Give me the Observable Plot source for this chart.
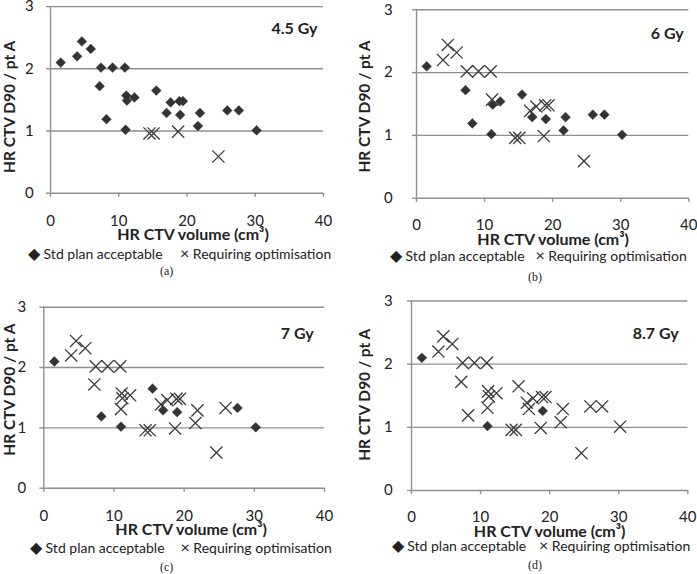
<!DOCTYPE html>
<html>
<head>
<meta charset="utf-8">
<script src="https://cdn.jsdelivr.net/npm/d3@7"></script>
<script src="https://cdn.jsdelivr.net/npm/@observablehq/plot@0.6"></script>
<style>
  html, body { margin: 0; padding: 0; background: #fff; }
  #root { position: relative; width: 697px; height: 574px; overflow: hidden; font-family: Lato, "Open Sans", sans-serif; }
  .panel { position: absolute; }
  .leg { position: absolute; font-size: 14px; color: #222; white-space: nowrap; line-height: 1; transform: translateY(-50%); }
  .leg .sym { font-size: 16px; }
  .cap { position: absolute; font-family: "Liberation Serif", "DejaVu Serif", serif; font-size: 12px; color: #222; transform: translate(-50%, -50%); line-height: 1; }
</style>
</head>
<body>
<div id="root"></div>
<script>
// ---- data ----
const volume = [1.5, 3.9, 4.6, 5.9, 7.4, 9.1, 10.9, 7.2, 8.2, 11.1, 11.2, 12.3, 11.0, 11.0, 14.5, 15.1, 15.5, 16.7, 17.0, 17.6, 18.9, 19.4, 19.0, 18.7, 21.6, 21.9, 25.9, 27.6, 30.2, 24.6];
const ratio  = [2.10, 2.20, 2.44, 2.32, 2.02, 2.02, 2.02, 1.72, 1.19, 1.57, 1.49, 1.54, 1.31, 1.02, 0.96, 0.96, 1.65, 1.39, 1.29, 1.46, 1.48, 1.48, 1.26, 0.99, 1.08, 1.29, 1.33, 1.33, 1.01, 0.59];
// A = std plan acceptable, O = requiring optimisation, "" = not shown
const status45 = ["A","A","A","A","A","A","A","A","A","A","A","A","", "A","O","O","A","", "A","A","A","A","A","O","A","A","A","A","A","O"];
const status6  = ["A","O","O","O","O","O","O","A","A","O","A","A","", "A","O","O","A","O","A","O","O","O","A","O","A","A","A","A","A","O"];
const status7  = ["A","O","O","O","O","O","O","O","A","O","O","O","O","A","O","O","A","O","A","O","O","O","A","O","O","O","O","A","A","O"];
const status87 = ["A","O","O","O","O","O","O","O","O","O","O","O","O","A","O","O","O","O","O","O","O","O","A","O","O","O","O","O","O","O"];
const doses = ["4.5 Gy", "6 Gy", "7 Gy", "8.7 Gy"];
const captions = ["(a)", "(b)", "(c)", "(d)"];
const xTicks = [0, 10, 20, 30, 40];
const yTicks = [0, 1, 2, 3];
const xTitle = "HR CTV volume (cm³)";
const yTitle = "HR CTV D90 / pt A";
const legendLabels = ["Std plan acceptable", "Requiring optimisation"];
const legendSymbols = ["\u25C6", "\u00D7"];

const statuses = [status45, status6, status7, status87];

// ---- layout of each panel (pixels) ----
const layout = [
  {left: 0,   top: 0,   width: 348, height: 250, mL: 50,   mR: 25,  mT: 6.1,  mB: 57.3, yPad: 12.7, xPad: 18, gyDx: -6,   gyDy: 22,   xtDx: 6,   ytDx: -40, ytDy: 7,
   leg1: 28, leg2: 180, legY: 253.3, capX: 166.7, capY: 271},
  {left: 350, top: 0,   width: 347, height: 250, mL: 66,   mR: 8.7, mT: 9.3,  mB: 52.3, yPad: 19.7, xPad: 17, gyDx: -5,   gyDy: 24,   xtDx: 0.5, ytDx: -51,   ytDy: 2.5,
   leg1: 390, leg2: 535.5, legY: 255, capX: 535, capY: 276.7},
  {left: 0,   top: 290, width: 348, height: 250, mL: 43.3, mR: 24,  mT: 16.7, mB: 52.3, yPad: 13.6, xPad: 18, gyDx: -10.7, gyDy: 26.7, xtDx: 7,   ytDx: -33.5, ytDy: -8,
   leg1: 30, leg2: 180.5, legY: 546.7, capX: 166.7, capY: 566.7},
  {left: 350, top: 290, width: 347, height: 250, mL: 61,   mR: 9.7, mT: 10.5, mB: 50,   yPad: 14.7, xPad: 16.5, gyDx: -9,  gyDy: 32.8, xtDx: 0,   ytDx: -46,   ytDy: -1,
   leg1: 391.7, leg2: 539, legY: 545, capX: 535, capY: 565}
];

const root = document.getElementById("root");
const ink = "#333";
const gridColor = "#8f8f8f";
const fontFam = "Lato, 'Open Sans', sans-serif";
const fmt = d3.format("d");

layout.forEach((L, i) => {
  const st = statuses[i];
  const pts = volume.map((v, k) => ({v, r: ratio[k], s: st[k]}));
  const acc = pts.filter(d => d.s === "A");
  const opt = pts.filter(d => d.s === "O");
  const svg = Plot.plot({
    width: L.width,
    height: L.height,
    marginLeft: L.mL,
    marginRight: L.mR,
    marginTop: L.mT,
    marginBottom: L.mB,
    style: {fontFamily: fontFam, background: "transparent", overflow: "visible"},
    x: {domain: [0, 40]},
    y: {domain: [0, 3]},
    marks: [
      Plot.ruleY(yTicks, {y: d => d, stroke: gridColor, strokeWidth: 1.4}),
      Plot.ruleX([xTicks[0]], {x: d => d, stroke: gridColor, strokeWidth: 1.4}),
      Plot.axisX(xTicks, {tickSize: 4, tickPadding: L.xPad, tickFormat: fmt, fontSize: 15, stroke: gridColor, strokeWidth: 1.4, fill: "#222", label: null}),
      Plot.axisY(yTicks, {tickSize: 4, tickPadding: L.yPad, tickFormat: fmt, fontSize: 15, stroke: gridColor, strokeWidth: 1.4, fill: "#222", label: null}),
      Plot.dot(acc, {x: "v", y: "r", symbol: "diamond2", fill: ink, stroke: ink, strokeWidth: 0.5, r: 4.4}),
      Plot.dot(opt, {x: "v", y: "r", symbol: "times", stroke: "#3a3a3a", strokeWidth: 1.3, r: 5.6}),
      Plot.text([doses[i]], {text: d => d, frameAnchor: "top-right", textAnchor: "end", lineAnchor: "middle", dx: L.gyDx, dy: L.gyDy, fontWeight: "bold", fontSize: 16, fill: "#222"}),
      Plot.text([xTitle], {text: d => d, frameAnchor: "bottom", textAnchor: "middle", lineAnchor: "middle", dx: L.xtDx, dy: 41.5, fontWeight: "bold", fontSize: 16, fill: "#222"}),
      Plot.text([yTitle], {text: d => d, frameAnchor: "left", textAnchor: "middle", rotate: -90, lineAnchor: "middle", dx: L.ytDx, dy: L.ytDy, fontWeight: "bold", fontSize: 15.5, fill: "#222"})
    ]
  });
  const wrap = document.createElement("div");
  wrap.className = "panel";
  wrap.style.left = L.left + "px";
  wrap.style.top = L.top + "px";
  wrap.appendChild(svg);
  root.appendChild(wrap);

  [L.leg1, L.leg2].forEach((lx, j) => {
    const el = document.createElement("div");
    el.className = "leg";
    el.style.left = lx + "px";
    el.style.top = L.legY + "px";
    const sym = document.createElement("span");
    sym.className = "sym";
    sym.textContent = legendSymbols[j];
    el.appendChild(sym);
    el.appendChild(document.createTextNode(" " + legendLabels[j]));
    root.appendChild(el);
  });

  const cap = document.createElement("div");
  cap.className = "cap";
  cap.style.left = L.capX + "px";
  cap.style.top = L.capY + "px";
  cap.textContent = captions[i];
  root.appendChild(cap);
});
</script>
</body>
</html>
